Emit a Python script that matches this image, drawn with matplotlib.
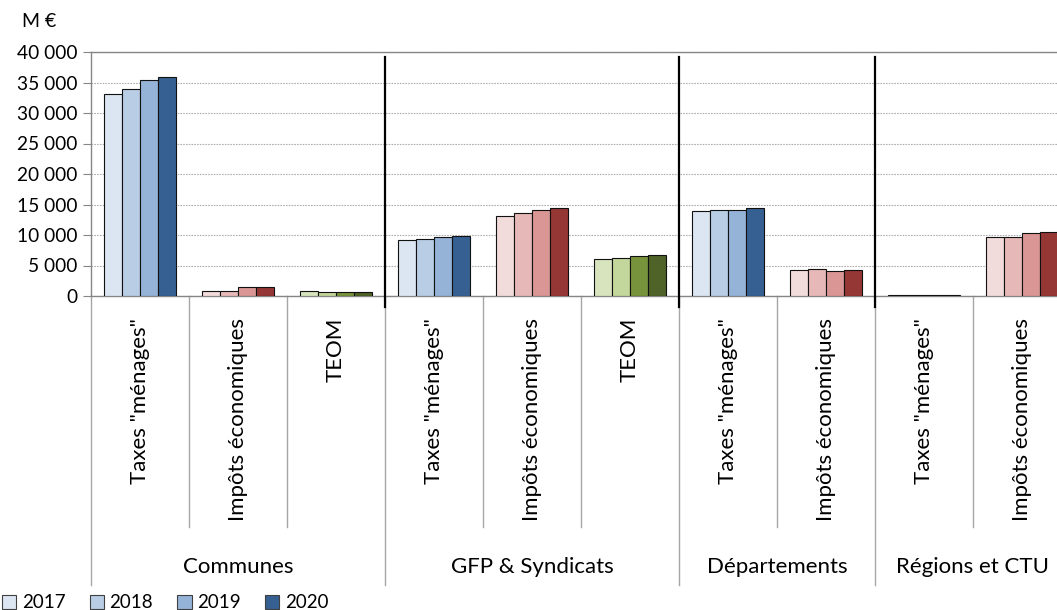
import numpy as np
import matplotlib
matplotlib.use("Agg")
from matplotlib import pyplot as plt
from matplotlib.patches import Patch
from matplotlib.transforms import blended_transform_factory

plt.rcParams["font.family"] = ["Lato", "DejaVu Sans"]

groups = ["Communes", "GFP & Syndicats", "Départements", "Régions et CTU"]
group_sizes = [3, 3, 2, 2]
subcats = ['Taxes "ménages"', "Impôts économiques", "TEOM",
           'Taxes "ménages"', "Impôts économiques", "TEOM",
           'Taxes "ménages"', "Impôts économiques",
           'Taxes "ménages"', "Impôts économiques"]
kinds = ["men", "eco", "teom", "men", "eco", "teom", "men", "eco", "men", "eco"]
years = ["2017", "2018", "2019", "2020"]

v2017 = [33100, 900, 900, 9100, 13150, 6100, 13900, 4250, 150, 9600]
v2018 = [33900, 900, 700, 9400, 13550, 6300, 14100, 4450, 150, 9600]
v2019 = [35400, 1450, 650, 9650, 14050, 6500, 14100, 4100, 150, 10400]
v2020 = [35950, 1450, 650, 9800, 14450, 6650, 14450, 4250, 150, 10550]
values = [v2017, v2018, v2019, v2020]

palette = {
    "men": ["#DCE6F2", "#B9CDE5", "#95B3D7", "#376092"],
    "eco": ["#F2DCDB", "#E6B9B8", "#D99694", "#953735"],
    "teom": ["#D7E4BD", "#C3D69B", "#77933C", "#4F6228"],
}

W, H = 1057, 610
fig = plt.figure(figsize=(W / 100, H / 100), dpi=100)
ax_left, ax_right, ax_top, ax_bot = 91, 1057, 52, 296
ax = fig.add_axes([ax_left / W, 1 - ax_bot / H, (ax_right - ax_left) / W, (ax_bot - ax_top) / H])

slot_px = 98.0
x = np.arange(len(subcats))
bw = 18 / slot_px
for i, yr in enumerate(years):
    cols = [palette[k][i] for k in kinds]
    ax.bar(x + (i - 1.5) * bw, values[i], width=bw, color=cols,
           edgecolor="#111111", linewidth=0.8, zorder=3)

ax.set_ylim(0, 40000)
ax.set_xlim(-0.5, -0.5 + (ax_right - ax_left) / slot_px)
ax.set_yticks(np.arange(0, 40001, 5000))
ax.set_yticklabels([f"{v:,}".replace(",", " ") for v in range(0, 40001, 5000)])
ax.yaxis.grid(True, color="#B0B0B0", linestyle=(0, (1.5, 1)), linewidth=0.8)
ax.set_axisbelow(True)
ax.tick_params(axis="y", length=6, color="#868686", labelsize=13.8, pad=4)
ax.set_xticks([])
for s in ["left", "bottom", "top"]:
    ax.spines[s].set_color("#868686")
    ax.spines[s].set_linewidth(1.0)
ax.spines["right"].set_visible(False)

trans = blended_transform_factory(ax.transData, ax.transAxes)
to_ax = lambda py: (ax_bot - py) / (ax_bot - ax_top)

ax.text(-0.071, to_ax(30), "M €", transform=ax.transAxes, fontsize=14, ha="left", va="bottom")

# category labels and separators under the axis
for i, lab in enumerate(subcats):
    ax.text(i, to_ax(318), lab, rotation=90, ha="center", va="top",
            fontsize=16, transform=trans)
bounds = np.cumsum([0] + group_sizes) - 0.5
for b in np.arange(-0.5, len(subcats), 1.0):
    is_group = np.any(np.isclose(bounds, b))
    yb = to_ax(585) if is_group else to_ax(527)
    ax.plot([b, b], [0, yb], color="#A6A6A6", lw=1.0, transform=trans, clip_on=False)
for g, b in enumerate(bounds[1:-1]):
    ax.plot([b, b], [to_ax(57), to_ax(307)], color="black", lw=1.6,
            transform=trans, clip_on=False, zorder=4)
for g, name in enumerate(groups):
    c = (bounds[g] + bounds[g + 1]) / 2
    ax.text(c, to_ax(567), name, ha="center", va="center", fontsize=16, transform=trans)

handles = [Patch(facecolor=palette["men"][i], edgecolor="#404040", linewidth=0.8) for i in range(4)]
fig.legend(handles, years, loc="center left", bbox_to_anchor=(0.002, 7 / H), ncol=4,
           frameon=False, handlelength=0.75, handleheight=0.75, handletextpad=0.3,
           columnspacing=1.3, borderaxespad=0, borderpad=0, fontsize=13.5)

fig.savefig("out.png", dpi=100)
